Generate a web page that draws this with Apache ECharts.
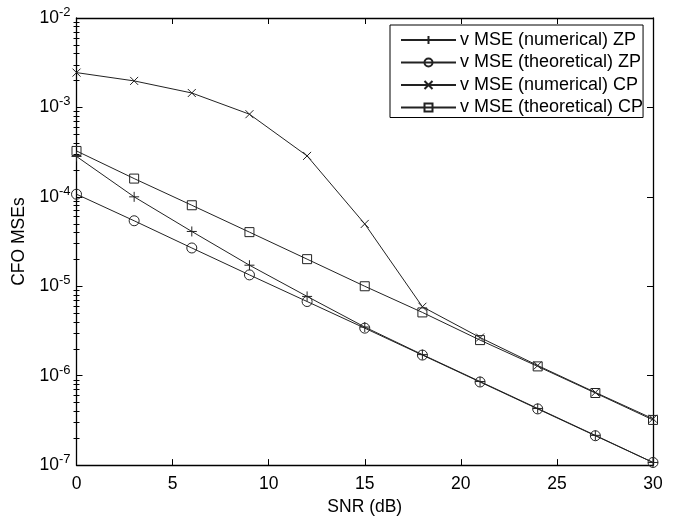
<!DOCTYPE html>
<html>
<head>
<meta charset="utf-8">
<script src="https://cdn.jsdelivr.net/npm/echarts@6/dist/echarts.min.js"></script>
<style>
  html, body { margin: 0; padding: 0; background: #fff; }
  #chart { width: 678px; height: 521px; }
</style>
</head>
<body>
<div id="chart"></div>
<script>
// SNR sample points (dB)
const snr = [0, 3, 6, 9, 12, 15, 18, 21, 24, 27, 30];

// CFO mean-squared errors
const zpNumerical   = [2.83e-4, 1.0e-4, 4.1e-5, 1.72e-5, 7.7e-6, 3.5e-6, 1.72e-6, 8.6e-7, 4.3e-7, 2.15e-7, 1.07e-7];
const zpTheoretical = [1.07e-4, 5.4e-5, 2.68e-5, 1.34e-5, 6.75e-6, 3.4e-6, 1.7e-6, 8.5e-7, 4.25e-7, 2.13e-7, 1.07e-7];
const cpNumerical   = [2.45e-3, 1.98e-3, 1.45e-3, 8.4e-4, 2.87e-4, 4.98e-5, 5.9e-6, 2.67e-6, 1.3e-6, 6.5e-7, 3.3e-7];
const cpTheoretical = [3.26e-4, 1.6e-4, 8.05e-5, 4.03e-5, 2.01e-5, 1.0e-5, 5.1e-6, 2.5e-6, 1.27e-6, 6.4e-7, 3.2e-7];

const seriesNames = [
  'v MSE (numerical) ZP',
  'v MSE (theoretical) ZP',
  'v MSE (numerical) CP',
  'v MSE (theoretical) CP'
];

// Minor ticks between decades (2..9 x 10^k)
const yMinorTicks = [];
for (let d = -7; d < -2; d++) {
  for (let m = 2; m <= 9; m++) yMinorTicks.push(m * Math.pow(10, d));
}

const FONT = '"Liberation Sans", Arial, Helvetica, sans-serif';
const FS = 17.5;
const INK = '#000';
const LINE = '#222';

const plusPath = 'path://M5,0L5,10M0,5L10,5';
const crossPath = 'path://M0,0L10,10M0,10L10,0';

function pairs(ys) { return snr.map((x, i) => [x, ys[i]]); }

function makeSeries(name, ys, symbol, size) {
  return {
    name: name,
    type: 'line',
    data: pairs(ys),
    symbol: symbol,
    symbolSize: size,
    showAllSymbol: true,
    lineStyle: { color: LINE, width: 1 },
    itemStyle: { color: 'rgba(255,255,255,0)', borderColor: LINE, borderWidth: 1 },
    emphasis: { disabled: true },
    animation: false,
    z: 3
  };
}

const chart = echarts.init(document.getElementById('chart'), null, { renderer: 'canvas' });

function baseY(extra) {
  return Object.assign({
    type: 'log',
    logBase: 10,
    min: 1e-7,
    max: 1e-2,
    gridIndex: 0,
    splitLine: { show: false },
    axisLine: { show: true, onZero: false, lineStyle: { color: INK, width: 1.3 } }
  }, extra);
}

chart.setOption({
  backgroundColor: '#fff',
  animation: false,
  grid: { left: 76.5, right: 25, top: 18, bottom: 50, containLabel: false },
  legend: {
    left: 390,
    top: 25,
    orient: 'vertical',
    itemWidth: 55,
    itemHeight: 10,
    itemGap: 4.5,
    padding: [6, 0, 1, 10],
    backgroundColor: '#fff',
    borderColor: INK,
    borderWidth: 1,
    textStyle: { fontFamily: FONT, fontSize: 18, lineHeight: 17, color: INK, padding: [0, 0, 0, -1] },
    data: seriesNames,
    selectedMode: false
  },
  xAxis: [
    {
      type: 'value',
      min: 0, max: 30, interval: 5,
      name: 'SNR (dB)',
      nameLocation: 'middle',
      nameGap: 29.5,
      nameTextStyle: { fontFamily: FONT, fontSize: FS, color: INK },
      axisLine: { show: true, onZero: false, lineStyle: { color: INK, width: 1.3 } },
      axisTick: { inside: true, length: 6, lineStyle: { color: INK } },
      axisLabel: { margin: 10, fontFamily: FONT, fontSize: FS, color: INK },
      splitLine: { show: false }
    },
    {
      type: 'value',
      position: 'top',
      min: 0, max: 30, interval: 5,
      axisLine: { show: true, onZero: false, lineStyle: { color: INK, width: 1.3 } },
      axisTick: { inside: true, length: 6, lineStyle: { color: INK } },
      axisLabel: { show: false },
      splitLine: { show: false }
    }
  ],
  yAxis: [
    baseY({
      position: 'left',
      name: 'CFO MSEs',
      nameLocation: 'middle',
      nameGap: 47.5,
      nameRotate: 90,
      nameTextStyle: { fontFamily: FONT, fontSize: FS, color: INK },
      axisTick: { inside: true, length: 6, lineStyle: { color: INK } },
      axisLabel: {
        margin: 6,
        formatter: function (v) {
          return '{b|10}{s|' + Math.round(Math.log10(v)) + '}';
        },
        rich: {
          b: { fontFamily: FONT, fontSize: FS, color: INK },
          s: { fontFamily: FONT, fontSize: 13, color: INK, verticalAlign: 'bottom', padding: [0, 0, 11, 0] }
        }
      }
    }),
    baseY({
      position: 'right',
      axisTick: { inside: true, length: 6, lineStyle: { color: INK } },
      axisLabel: { show: false }
    }),
    baseY({
      position: 'left',
      axisLine: { show: false },
      axisTick: { inside: true, length: 3, customValues: yMinorTicks, lineStyle: { color: INK } },
      axisLabel: { show: false }
    }),
    baseY({
      position: 'right',
      offset: 0,
      axisLine: { show: false },
      axisTick: { inside: true, length: 3, customValues: yMinorTicks, lineStyle: { color: INK } },
      axisLabel: { show: false }
    })
  ],
  series: [
    makeSeries(seriesNames[0], zpNumerical, plusPath, 10),
    makeSeries(seriesNames[1], zpTheoretical, 'circle', 10),
    makeSeries(seriesNames[2], cpNumerical, crossPath, 8),
    makeSeries(seriesNames[3], cpTheoretical, 'rect', 9)
  ]
});
</script>
</body>
</html>
